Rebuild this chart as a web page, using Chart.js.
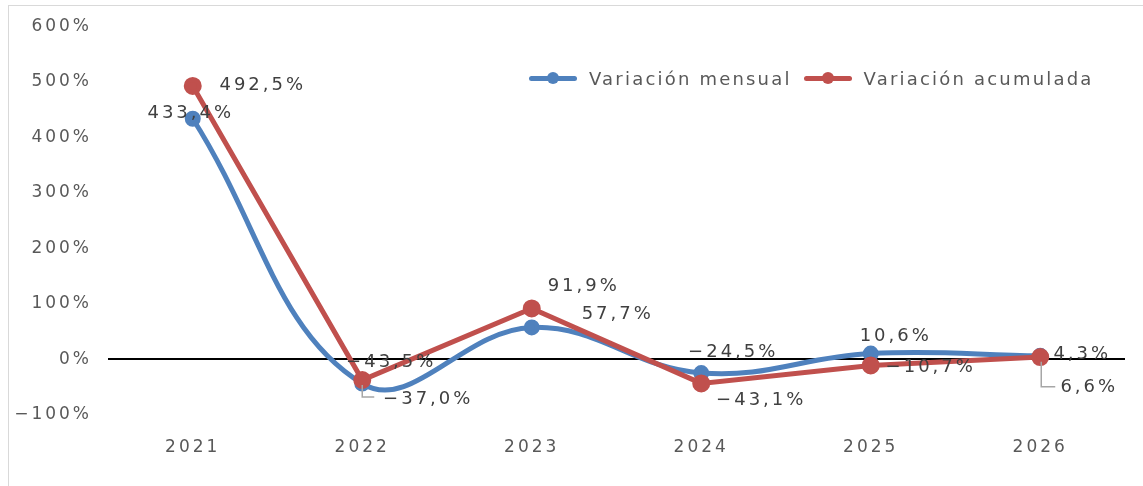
<!DOCTYPE html>
<html>
<head>
<meta charset="utf-8">
<script src="https://cdn.jsdelivr.net/npm/chart.js@4/dist/chart.umd.min.js"></script>
<style>
  body { margin: 0; background: #fff; }
  #wrap { position: relative; width: 1143px; height: 486px; }
  #frame { position: absolute; left: 8px; top: 5px; width: 1140px; height: 490px;
           border-left: 1px solid #d9d9d9; border-top: 1px solid #d9d9d9; }
  #legend { position: absolute; left: 529px; top: 64px; font-family: "DejaVu Sans", sans-serif;
            font-size: 18px; letter-spacing: 2.2px; color: #595959; white-space: nowrap; }
  .item { display: inline-flex; align-items: center; margin-right: 4px; }
  .swatch { position: relative; width: 48px; height: 5px; border-radius: 3px; margin-right: 12px; }
  .swatch i { position: absolute; left: 18px; top: -4px; width: 12px; height: 12px; border-radius: 50%; background: inherit; }
</style>
</head>
<body>
<div id="wrap">
  <div id="frame"></div>
  <canvas id="line-chart"></canvas>
  <div id="legend">
    <span class="item"><span class="swatch" style="background:#4f81bd"><i></i></span>Variación mensual</span>
    <span class="item"><span class="swatch" style="background:#c0504d"><i></i></span>Variación acumulada</span>
  </div>
</div>
<script>
let years = ['2021', '2022', '2023', '2024', '2025', '2026'];
let mensual = [433.4, -43.5, 57.7, -24.5, 10.6, 6.6];
let acumulada = [492.5, -37.0, 91.9, -43.1, -10.7, 4.3];
let yTicks = [-100, 0, 100, 200, 300, 400, 500, 600];

// where each value label sits relative to its point (dx, dy)
let labelOffsets = [
  [[-2, -5], [29, -21], [86, -13], [32, -21], [25, -17], [49, 32]],
  [[70, -1], [66, 19], [52, -22], [60, 17], [60, 2], [42, -3]],
];
// leader lines for the labels pushed away from their points
let leaders = [
  {5: [[1, 6], [1, 31], [15, 31]]},
  {1: [[0, 5], [0, 17], [12, 17]]},
];

function fmt(v) {
  return (v < 0 ? '\u2212' : '') + Math.abs(v).toFixed(1).replace('.', ',') + '%';
}

let spacing = {
  id: 'spacing',
  beforeUpdate(chart) { chart.ctx.letterSpacing = '3px'; },
  beforeDraw(chart) { chart.ctx.letterSpacing = '3px'; },
};

let valueLabels = {
  id: 'valueLabels',
  afterDatasetsDraw(chart) {
    let ctx = chart.ctx;
    ctx.save();
    ctx.letterSpacing = '3px';
    ctx.font = '18px "DejaVu Sans"';
    ctx.fillStyle = '#404040';
    ctx.textAlign = 'center';
    ctx.textBaseline = 'middle';
    chart.data.datasets.forEach((ds, i) => {
      let meta = chart.getDatasetMeta(i);
      meta.data.forEach((pt, j) => {
        let lead = leaders[i][j];
        if (lead) {
          ctx.strokeStyle = '#a6a6a6';
          ctx.lineWidth = 1.5;
          ctx.beginPath();
          lead.forEach((p, k) => {
            if (k == 0) ctx.moveTo(pt.x + p[0], pt.y + p[1]);
            else ctx.lineTo(pt.x + p[0], pt.y + p[1]);
          });
          ctx.stroke();
        }
        let off = labelOffsets[i][j];
        ctx.fillText(fmt(ds.data[j]), pt.x + off[0], pt.y + off[1]);
      });
    });
    ctx.restore();
  }
};

new Chart(document.getElementById('line-chart'), {
  type: 'line',
  data: {
    labels: years,
    datasets: [
      {
        label: 'Variación mensual',
        data: mensual,
        borderColor: '#4f81bd',
        backgroundColor: '#4f81bd',
        borderWidth: 5,
        pointRadius: 5.5,
        tension: 0.4,
        order: 2,
      },
      {
        label: 'Variación acumulada',
        data: acumulada,
        borderColor: '#c0504d',
        backgroundColor: '#c0504d',
        borderWidth: 5,
        pointRadius: 6.5,
        tension: 0,
        order: 1,
      },
    ],
  },
  options: {
    responsive: true,
    maintainAspectRatio: false,
    animation: false,
    layout: { padding: { left: 8, right: 18, top: 22, bottom: 21 } },
    plugins: { legend: { display: false }, tooltip: { enabled: false } },
    scales: {
      x: {
        offset: true,
        grid: { display: false },
        border: { display: false },
        ticks: { color: '#595959', font: { family: 'DejaVu Sans', size: 17 }, padding: 14 },
        afterFit(scale) { scale.height = 50; },
      },
      y: {
        min: -100,
        max: 600,
        afterBuildTicks(scale) { scale.ticks = yTicks.map(v => ({ value: v })); },
        border: { display: false },
        grid: {
          drawTicks: false,
          color: ctx => ctx.tick && ctx.tick.value === 0 ? '#000' : 'rgba(0,0,0,0)',
          lineWidth: 2,
        },
        ticks: {
          color: '#595959',
          font: { family: 'DejaVu Sans', size: 17 },
          padding: 16,
          callback: v => (v < 0 ? '\u2212' : '') + Math.abs(v) + '%',
        },
        afterFit(scale) { scale.width = 100; },
      },
    },
  },
  plugins: [spacing, valueLabels],
});
</script>
</body>
</html>
